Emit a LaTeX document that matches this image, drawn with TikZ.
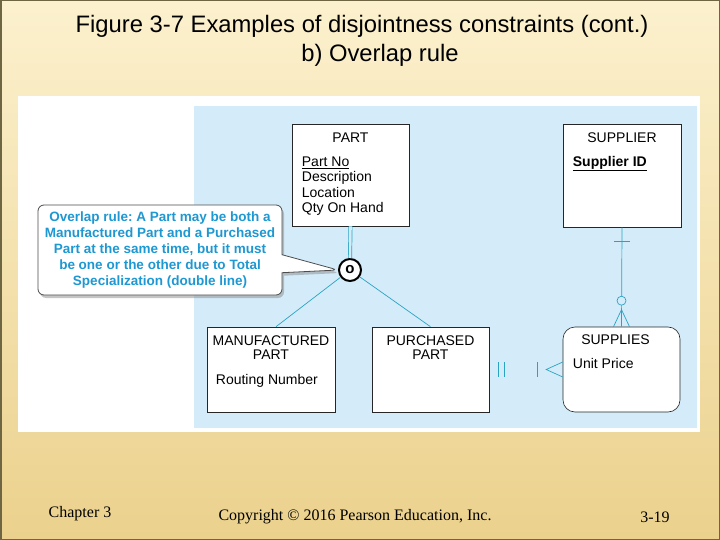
\documentclass[tikz,border=0pt]{standalone}
\usepackage{fontspec}
\setmainfont{Liberation Sans}
\newfontfamily\footfont{Liberation Serif}
\usepackage{tikz}
\usetikzlibrary{positioning}
\usetikzlibrary{calc}
\usetikzlibrary{shapes.callouts,shadows}
\frenchspacing
\definecolor{slidetop}{HTML}{FCF1CE}
\definecolor{slidebot}{HTML}{EBD18D}
\definecolor{slideedge}{HTML}{6E6642}
\definecolor{panelblue}{HTML}{D4ECF9}
\definecolor{relteal}{HTML}{2AA3C2}
\definecolor{noteblue}{HTML}{1E98D2}
\tikzstyle{entity}=[rectangle,draw=black!85,fill=white,line width=0.6pt,inner sep=0pt]
\tikzstyle{enttitle}=[font=\fontsize{14}{14}\selectfont,align=center,inner sep=0pt,anchor=north]
\tikzstyle{attr}=[font=\fontsize{14}{15.3}\selectfont,align=left,inner sep=0pt,anchor=north west]
\tikzstyle{rel}=[draw=relteal,line width=0.7pt]
\tikzstyle{note}=[rectangle callout,rounded corners=6pt,draw=black!70,fill=white,line width=0.8pt,
    minimum width=244pt,minimum height=90pt,inner sep=0pt,align=center,text=noteblue,
    font=\bfseries\fontsize{13.5}{15.8}\selectfont,callout pointer width=18pt,
    drop shadow={shadow xshift=2pt,shadow yshift=-3pt,opacity=0.45}]
\tikzstyle{foot}=[font=\footfont\fontsize{16}{18}\selectfont]

\begin{document}
\begin{tikzpicture}[x=1pt,y=-1pt]
    % slide background
    \useasboundingbox (0,0) rectangle (720,540);
    \shade[top color=slidetop,bottom color=slidebot] (0,0) rectangle (720,540);
    \draw[slideedge,line width=1.5pt] (0.75,0.75) rectangle (719.25,539.25);
    \node[font=\fontsize{23.8}{28}\selectfont] (title) at (362,26) {Figure 3-7 Examples of disjointness constraints (cont.)};
    \node[font=\fontsize{23.8}{28}\selectfont] (subtitle) at (380,55) {b) Overlap rule};

    % panels
    \fill[white] (18,96) rectangle (700,432);
    \fill[panelblue] (194,106) rectangle (697,428);

    % First we draw the entity boxes
    \foreach \pos/\name/\w/\h in {{(350.5,175)/part/117/102}, {(622,175.5)/supplier/118/103},
                                  {(271,369.5)/mfg/128/85}, {(430.5,369.5)/purch/117/85}}
        \node[entity,minimum width=\w pt,minimum height=\h pt] (\name) at \pos {};
    \node[entity,rounded corners=12pt,minimum width=117pt,minimum height=85pt] (supplies) at (621.5,369.5) {};

    % then their texts
    \node[enttitle] (parttitle) at ($(part.north)+(0,9)$) {PART};
    \node[attr] (partattr) at ($(part.north west)+(10,33)$) {\underline{Part No}\\Description\\Location\\Qty On Hand};
    \node[enttitle] (suptitle) at ($(supplier.north)+(0,9)$) {SUPPLIER};
    \node[attr] (supattr) at ($(supplier.north west)+(10,32)$) {\bfseries\underline{Supplier ID}};
    \node[enttitle] (mfgtitle) at ($(mfg.north)+(0,9)$) {MANUFACTURED\\PART};
    \node[attr] (mfgattr) at ($(mfg.north west)+(9,47)$) {Routing Number};
    \node[enttitle] (purchtitle) at ($(purch.north)+(0,9)$) {PURCHASED\\PART};
    \node[enttitle] (suppliestitle) at ($(supplies.north)+(-6,8)$) {SUPPLIES};
    \node[attr] (suppliesattr) at ($(supplies.north west)+(10,31)$) {Unit Price};

    % subtype circle
    \node[circle,draw,line width=2pt,fill=white,minimum size=22pt,inner sep=0pt,font=\bfseries\fontsize{15}{15}\selectfont] (circ) at (350,270) {o};
    \draw[rel,double=panelblue,double distance=2.6pt] (part.south) -- (circ.north);
    \draw[rel] (circ) -- ($(mfg.north)+(5,0)$);
    \draw[rel] (circ) -- (purch.north);

    % SUPPLIER to SUPPLIES
    \draw[rel] (supplier.south) -- (supplies.north);
    \draw[rel] ($(supplier.south)+(-8,14)$) -- ($(supplier.south)+(8,14)$);
    \draw[rel,fill=panelblue] ($(supplies.north)+(0,-26)$) circle (4.5pt);
    \draw[rel] ($(supplies.north)+(-8,0)$) -- ($(supplies.north)+(0,-17)$) -- ($(supplies.north)+(8,0)$);

    % PURCHASED PART to SUPPLIES
    \draw[rel] ($(purch.east)+(9.5,-7.5)$) -- ++(0,15);
    \draw[rel] ($(purch.east)+(15,-7.5)$) -- ++(0,15);
    \draw[rel] ($(supplies.west)+(-25.7,-7.5)$) -- ++(0,15);
    \draw[rel] ($(supplies.west)+(0,-7.5)$) -- ($(supplies.west)+(-16.5,0)$) -- ($(supplies.west)+(0,7.5)$);

    % callout
    \node[note,callout absolute pointer={(circ.west)}] (overlapnote) at (160,250)
        {Overlap rule: A Part may be both a\\Manufactured Part and a Purchased\\Part at the same time, but it must\\be one or the other due to Total\\Specialization (double line)};

    % footer
    \node[foot] (chapter) at (80,514) {Chapter 3};
    \node[foot] (copyright) at (355,517) {Copyright © 2016 Pearson Education, Inc.};
    \node[foot] (pageno) at (655,517) {3-19};
\end{tikzpicture}
\end{document}
